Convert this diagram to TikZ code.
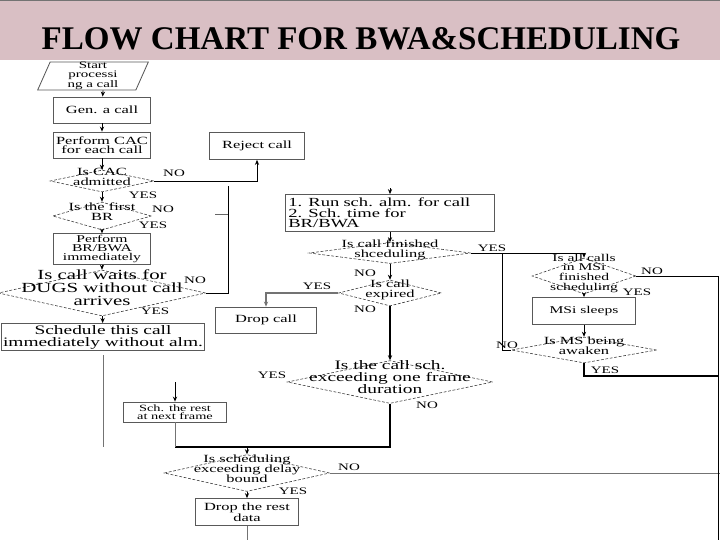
\documentclass[tikz,border=0pt]{standalone}
\usepackage{fontspec}
\setmainfont{Liberation Serif}
\newfontfamily\flowfont[FakeStretch=1.5]{Liberation Serif}
\usetikzlibrary{arrows.meta,shapes.geometric,calc}
\definecolor{bandpink}{RGB}{217,191,196}
\newcommand\pxu{0.70866pt}
\newcommand\dtext[1]{\smash{\makebox[0pt]{\begin{tabular}{@{}c@{}}#1\end{tabular}}}}

\begin{document}
\begin{tikzpicture}[x=0.025cm,y=-0.025cm,
  >={Stealth[length=3.6pt,width=3pt]},
  fs/.style 2 args={font=\flowfont\fontsize{#1}{#2}\selectfont},
  box/.style={draw=black!65,line width=0.6pt,minimum width=97*\pxu,
              minimum height=26*\pxu,inner sep=1pt,align=center,fs={7.8}{6.4}},
  dec/.style={diamond,draw=black!80,dash pattern=on 2pt off 1.2pt,
              line width=0.4pt,inner sep=0pt,fs={7.8}{6.4}},
  lab/.style={inner sep=0pt,fs={7.1}{7.1}},
  flow/.style={->,line width=0.6pt},
  wire/.style={line width=0.6pt},
]
\useasboundingbox (0,0) rectangle (720,540);
% ---- title band ---------------------------------------------------------
\fill[bandpink] (0,0) rectangle (720,60);
\draw[black!55,line width=1pt] (0,0.6) -- (720,0.6);
\node[font=\bfseries\fontsize{23.5}{26}\selectfont] (TT) at (361,39)
  {FLOW CHART FOR BWA\&SCHEDULING};

% ---- left column: admission ---------------------------------------------
\node[trapezium,trapezium left angle=66,trapezium right angle=114,
      trapezium stretches body=true,draw=black!65,line width=0.6pt,inner sep=0pt,
      minimum width=111*\pxu,minimum height=27*\pxu,align=center,
      fs={7.1}{6.2}] (ST) at (93,76)
  {Start\\processi\\ng a call};
\node[box] (GC) at (102,110) {Gen. a call};
\node[box] (PC) at (102,145) {Perform CAC\\for each call};
\node[dec,minimum width=104*\pxu,minimum height=22*\pxu] (D1) at (102,181)
  {\dtext{Is CAC\\admitted}};
\node[box,minimum width=95*\pxu,minimum height=27*\pxu] (RJ) at (257,146) {Reject call};
\node[dec,minimum width=99*\pxu,minimum height=28*\pxu] (D2) at (102,216)
  {\dtext{Is the first\\BR}};
\node[box,minimum height=28*\pxu,fs={7.4}{6.4}] (PB) at (102,249)
  {Perform\\BR/BWA\\immediately};
\node[dec,minimum width=208*\pxu,minimum height=46*\pxu,fs={9.9}{8.2}] (D3) at (102,293)
  {\dtext{Is call waits for\\DUGS without call\\arrives}};
\node[box,minimum width=204*\pxu,minimum height=27*\pxu,fs={9.2}{8.5}] (SC) at (103,337)
  {Schedule this call\\immediately without alm.};

\draw[flow] (SC.north |- ST.south) -- (GC);
\draw[flow] (GC) -- (PC);
\draw[flow] (PC) -- (D1);
\draw[flow] (D1) -- (D2);
\draw[flow] (D2) -- (PB);
\draw[flow] (PB) -- (D3);
\draw[flow] (D3) -- (SC);
\draw[flow] (D1.east) -| (RJ.south);
\coordinate (BRtop) at (228,186);
\draw[wire] (D3.east) -| (BRtop);
\coordinate (BRtick) at (215,214);
\draw[wire,black!60] (BRtick) -- (BRtick -| BRtop);
\coordinate (Lup) at (103,355);
\coordinate (Ldn) at (103,447);
\draw[wire,black!55] (Lup) -- (Ldn);

\node[lab] (n1) at (174,173) {NO};
\node[lab] (y1) at (143,195) {YES};
\node[lab] (n2) at (163,209) {NO};
\node[lab] (y2) at (153,225) {YES};
\node[lab] (n3) at (195,280) {NO};
\node[lab] (y3) at (155,311) {YES};

% ---- middle column: scheduling ------------------------------------------
\node[box,minimum width=210*\pxu,minimum height=37*\pxu,text width=204*\pxu,
      align=left,fs={8.8}{7.4}] (RS) at (390,213)
  {1. Run sch. alm. for call\\2. Sch. time for\\BR/BWA};
\node[dec,minimum width=162*\pxu,minimum height=21*\pxu] (D4) at (390,253)
  {\dtext{Is call finished\\shceduling}};
\node[dec,minimum width=103*\pxu,minimum height=26*\pxu] (D5) at (390,293)
  {\dtext{Is call\\expired}};
\node[box,minimum width=102*\pxu] (DC) at (266,320) {Drop call};
\node[dec,minimum width=206*\pxu,minimum height=43*\pxu,fs={9.2}{7.1}] (D6) at (390,382)
  {\dtext{Is the call sch.\\exceeding one frame\\duration}};
\node[box,minimum width=103*\pxu,minimum height=20*\pxu,fs={6.8}{5.7}] (SR) at (175,412)
  {Sch. the rest\\at next frame};
\node[dec,minimum width=166*\pxu,minimum height=37*\pxu] (D7) at (247,473)
  {\dtext{Is scheduling\\exceeding delay\\bound}};
\node[box,minimum width=103*\pxu,minimum height=27*\pxu] (DR) at (247,512)
  {Drop the rest\\data};

\coordinate (RSin) at (390,188);
\draw[flow] (RSin) -- (RS);
\draw[flow] (RS) -- (D4);
\draw[flow] (D4) -- (D5);
\draw[flow,draw=black!55,line width=1.6pt] (D5.west) -| (DC.north);
\draw[flow,line width=1.6pt] (D5) -- (D6);
\coordinate (UL) at (175,447);
\draw[wire,line width=0.9pt] (D6.south) |- (UL);
\draw[wire,black!55] (UL) -- (SR.south);
\coordinate (SRin) at (175,382);
\draw[flow] (SRin) -- (SR);
\coordinate (D7in) at (247,447);
\draw[flow] (D7in) -- (D7);
\coordinate (RE) at (720,473);
\draw[wire,black!55] (D7.east) -- (RE);
\draw[flow] (D7) -- (DR);
\coordinate (DRend) at (247,540);
\draw[wire,black!55] (DR.south) -- (DRend);

\node[lab] (y4) at (492,248) {YES};
\node[lab] (n4) at (365,273) {NO};
\node[lab] (y5) at (317,286) {YES};
\node[lab] (n5) at (365,309) {NO};
\node[lab] (y6) at (272,375) {YES};
\node[lab] (n6) at (427,405) {NO};
\node[lab] (n7) at (349,467) {NO};
\node[lab] (y7) at (293,491) {YES};

% ---- right column: MS sleep mode ----------------------------------------
\node[dec,minimum width=104*\pxu,minimum height=36*\pxu,fs={7.4}{6.4}] (D8) at (584,276)
  {\dtext{Is all calls\\in MSi\\finished\\scheduling}};
\node[box,minimum width=103*\pxu,minimum height=27*\pxu,fs={7.4}{6.4}] (MS) at (584,311)
  {MSi sleeps};
\node[dec,minimum width=146*\pxu,minimum height=26*\pxu] (D9) at (584,350)
  {\dtext{Is MS being\\awaken}};

\draw[flow] (D4.east) -| (D8.north);
\draw[flow] (D8) -- (MS);
\draw[flow] (MS) -- (D9);
\coordinate (JN) at (502,253);
\draw[wire] (D9.west) -| (JN);
\coordinate (RB) at (718,540);
\draw[wire] (D8.east) -| (RB);
\coordinate (RM) at (718,376);
\draw[wire,line width=1pt] (D9.south) |- (RM);

\node[lab] (n8) at (652,271) {NO};
\node[lab] (y8) at (637,292) {YES};
\node[lab] (n9) at (507,345) {NO};
\node[lab] (y9) at (605,370) {YES};
\end{tikzpicture}
\end{document}
